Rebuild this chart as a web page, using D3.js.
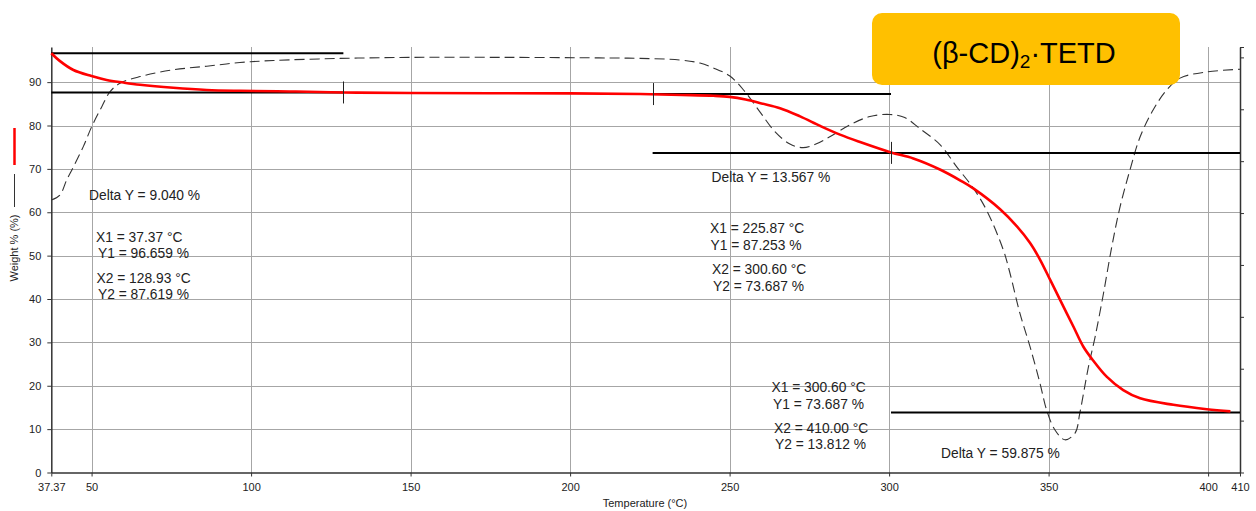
<!DOCTYPE html>
<html>
<head>
<meta charset="utf-8">
<script src="https://cdn.jsdelivr.net/npm/d3@7"></script>
<style>
  html, body { margin: 0; padding: 0; background: #fff; }
  svg { display: block; }
  text { font-family: "Liberation Sans", Arial, sans-serif; }
</style>
</head>
<body>
<svg id="chart" width="1256" height="511"></svg>
<script>
// ---------- DATA ----------
const xTickValues = [37.37, 50, 100, 150, 200, 250, 300, 350, 400, 410];
const xTickLabels = ["37.37", "50", "100", "150", "200", "250", "300", "350", "400", "410"];
const yTickValues = [0, 10, 20, 30, 40, 50, 60, 70, 80, 90];
const rightTickValues = [-8, -7, -6, -5, -4, -3, -2, -1, 0, 0.2];

// TG curve (weight %, red)
const tgTemp = [37.37, 40, 44.3, 50, 54.7, 60, 65.2, 75.6, 86.1, 96.5, 112, 128.9, 150, 200, 222, 235, 245, 250, 255, 260, 265.8, 272.1, 278.4, 284.6, 290.9, 300.6, 307.6, 316.1, 322.4, 326.4, 334.8, 340, 344.2, 347.3, 350.5, 353.6, 357.8, 360.9, 364.1, 368.2, 373.4, 378.7, 389.1, 399.6, 407];
const tgWeight = [96.66, 94.9, 92.8, 91.4, 90.5, 89.9, 89.4, 88.7, 88.2, 88.0, 87.85, 87.62, 87.5, 87.4, 87.25, 87.05, 86.85, 86.6, 86.0, 85.1, 84.0, 82.1, 79.9, 77.9, 76.2, 73.8, 72.4, 69.8, 67.3, 65.5, 60.7, 56.8, 52.9, 49.1, 44.4, 39.8, 33.6, 29.0, 25.7, 22.1, 19.0, 17.1, 15.6, 14.6, 14.1];

// DTG curve (derivative, dashed, right axis)
const dtgTemp = [37.37, 40.1, 42.2, 44.3, 47.4, 50.0, 53.2, 55.8, 58.9, 65.2, 75.6, 86.1, 96.5, 107.0, 127.9, 150, 180, 209, 222, 234.4, 240.7, 244.8, 250.1, 254.8, 259.5, 264.2, 268.9, 273.0, 276.7, 281.4, 287.7, 294.0, 300.2, 304.9, 309.6, 316.1, 321.2, 326.4, 330.6, 335.8, 337.9, 341.0, 344.2, 347.3, 349.4, 352.0, 355.1, 358.3, 359.8, 362.5, 364.6, 367.2, 369.8, 372.4, 375.5, 378.7, 382.8, 387.0, 391.2, 399.6, 410];
const dtgValue = [-2.75, -2.65, -2.36, -2.11, -1.72, -1.34, -0.95, -0.66, -0.50, -0.37, -0.24, -0.17, -0.10, -0.06, -0.02, 0.0, 0.0, -0.01, -0.02, -0.05, -0.11, -0.20, -0.36, -0.66, -1.05, -1.43, -1.67, -1.74, -1.68, -1.53, -1.30, -1.14, -1.10, -1.16, -1.37, -1.69, -2.11, -2.52, -2.95, -3.71, -4.16, -4.93, -5.58, -6.28, -6.80, -7.18, -7.37, -7.24, -6.85, -5.96, -5.38, -4.55, -3.65, -2.88, -2.17, -1.53, -1.01, -0.63, -0.40, -0.28, -0.23];

// Step analysis results
const stepLevels = [
  { y: 96.659, x1: 37.37, x2: 128.93 },
  { y: 87.619, x1: 37.37, x2: 128.93 },
  { y: 87.253, x1: 225.87, x2: 300.60 },
  { y: 73.687, x1: 225.87, x2: 410 },
  { y: 13.812, x1: 300.60, x2: 410 }
];
const stepMarkers = [
  { x: 128.93, y: 87.619 },
  { x: 225.87, y: 87.253 },
  { x: 300.60, y: 73.687 }
];
const annotations = [
  { text: "Delta Y = 9.040 %", x: 89, y: 200 },
  { text: "X1 = 37.37 °C", x: 96, y: 242 },
  { text: "Y1 = 96.659 %", x: 98, y: 258 },
  { text: "X2 = 128.93 °C", x: 96.5, y: 283 },
  { text: "Y2 = 87.619 %", x: 98, y: 299 },
  { text: "Delta Y = 13.567 %", x: 711.5, y: 181.5 },
  { text: "X1 = 225.87 °C", x: 710, y: 233 },
  { text: "Y1 = 87.253 %", x: 710.5, y: 250 },
  { text: "X2 = 300.60 °C", x: 712, y: 274 },
  { text: "Y2 = 73.687 %", x: 713, y: 290.5 },
  { text: "X1 = 300.60 °C", x: 771.5, y: 391.5 },
  { text: "Y1 = 73.687 %", x: 773, y: 409 },
  { text: "X2 = 410.00 °C", x: 774, y: 433 },
  { text: "Y2 = 13.812 %", x: 775, y: 449 },
  { text: "Delta Y = 59.875 %", x: 941, y: 458 }
];

// ---------- CHART ----------
const svg = d3.select("#chart");
const x = d3.scaleLinear().domain([37.37, 410]).range([51.3, 1240]);
const y = d3.scaleLinear().domain([0, 98.1]).range([472.5, 47]);
const yR = d3.scaleLinear().domain([-8, 0.2]).range([472.5, 47]);

const gridColor = "#a6a6a6";
// grid
svg.append("g").selectAll("line").data(yTickValues.filter(d => d > 0)).join("line")
  .attr("x1", x.range()[0]).attr("x2", x.range()[1])
  .attr("y1", d => Math.round(y(d)) + 0.5).attr("y2", d => Math.round(y(d)) + 0.5)
  .attr("stroke", gridColor).attr("stroke-width", 1);
svg.append("g").selectAll("line").data(xTickValues.filter(d => d >= 50 && d <= 400)).join("line")
  .attr("x1", d => Math.round(x(d)) + 0.5).attr("x2", d => Math.round(x(d)) + 0.5)
  .attr("y1", y.range()[1]).attr("y2", y.range()[0])
  .attr("stroke", gridColor).attr("stroke-width", 1);

// axes
const axisColor = "#333";
const gx = svg.append("g").attr("transform", `translate(0,${y(0)})`)
  .call(d3.axisBottom(x).tickValues(xTickValues).tickFormat((d, i) => xTickLabels[i]).tickSize(4).tickSizeOuter(0));
gx.select(".domain").attr("stroke", axisColor).attr("stroke-width", 1.5);
gx.selectAll(".tick line").attr("stroke", axisColor);
gx.selectAll(".tick text").attr("font-size", 11).attr("font-family", "'Liberation Sans', Arial, sans-serif").attr("fill", "#222").attr("dy", "1.05em");

const gy = svg.append("g").attr("transform", `translate(${x(37.37)},0)`)
  .call(d3.axisLeft(y).tickValues(yTickValues).tickSize(4).tickSizeOuter(0));
gy.select(".domain").attr("stroke", axisColor).attr("stroke-width", 1.5);
gy.selectAll(".tick line").attr("stroke", axisColor);
gy.selectAll(".tick text").attr("font-size", 11).attr("font-family", "'Liberation Sans', Arial, sans-serif").attr("fill", "#222").attr("x", -10);

const gr = svg.append("g").attr("transform", `translate(${x(410)},0)`)
  .call(d3.axisRight(yR).tickValues(rightTickValues).tickSize(4).tickSizeOuter(0).tickFormat(""));
gr.select(".domain").attr("stroke", axisColor).attr("stroke-width", 1.5);
gr.selectAll(".tick line").attr("stroke", axisColor);

// axis titles
svg.append("text").attr("x", 645).attr("y", 507).attr("text-anchor", "middle")
  .attr("font-size", 11).attr("fill", "#222").text("Temperature (°C)");
svg.append("text").attr("transform", "translate(18,248) rotate(-90)").attr("text-anchor", "middle")
  .attr("font-size", 11).attr("fill", "#222").text("Weight % (%)");
svg.append("line").attr("x1", 14.5).attr("x2", 14.5).attr("y1", 128).attr("y2", 165)
  .attr("stroke", "#ff0000").attr("stroke-width", 2.5);
svg.append("line").attr("x1", 14.5).attr("x2", 14.5).attr("y1", 174).attr("y2", 207)
  .attr("stroke", "#333").attr("stroke-width", 1);

// DTG dashed
const dtgData = dtgTemp.map((t, i) => [t, dtgValue[i]]);
svg.append("path").datum(dtgData)
  .attr("fill", "none").attr("stroke", "#333").attr("stroke-width", 1.1)
  .attr("stroke-dasharray", "10,5")
  .attr("d", d3.line().x(d => x(d[0])).y(d => yR(d[1])).curve(d3.curveCatmullRom.alpha(0.5)));

// step lines
svg.append("g").selectAll("line").data(stepLevels).join("line")
  .attr("x1", d => x(d.x1)).attr("x2", d => x(d.x2))
  .attr("y1", d => y(d.y)).attr("y2", d => y(d.y))
  .attr("stroke", "#000").attr("stroke-width", 2);

// TG red
const tgData = tgTemp.map((t, i) => [t, tgWeight[i]]);
svg.append("path").datum(tgData)
  .attr("fill", "none").attr("stroke", "#ff0000").attr("stroke-width", 2.6)
  .attr("d", d3.line().x(d => x(d[0])).y(d => y(d[1])).curve(d3.curveCatmullRom.alpha(0.5)));

// markers
svg.append("g").selectAll("line").data(stepMarkers).join("line")
  .attr("x1", d => Math.round(x(d.x)) + 0.5).attr("x2", d => Math.round(x(d.x)) + 0.5)
  .attr("y1", d => y(d.y) - 11).attr("y2", d => y(d.y) + 11)
  .attr("stroke", "#222").attr("stroke-width", 1);

// annotation texts
svg.append("g").selectAll("text").data(annotations).join("text")
  .attr("x", d => d.x).attr("y", d => d.y)
  .attr("font-size", 13.8).attr("fill", "#222")
  .text(d => d.text);

// title box
svg.append("rect").attr("x", 872).attr("y", 13).attr("width", 308).attr("height", 72)
  .attr("rx", 10).attr("fill", "#FFC000");
const title = svg.append("text").attr("x", 1024).attr("y", 63).attr("text-anchor", "middle")
  .attr("font-family", "'Open Sans', 'Noto Sans', sans-serif").attr("font-size", 29).attr("fill", "#000");
title.append("tspan").text("(β-CD)");
title.append("tspan").attr("font-size", 19).attr("dy", 5).text("2");
title.append("tspan").attr("dy", -5).text("·TETD");
</script>
</body>
</html>
